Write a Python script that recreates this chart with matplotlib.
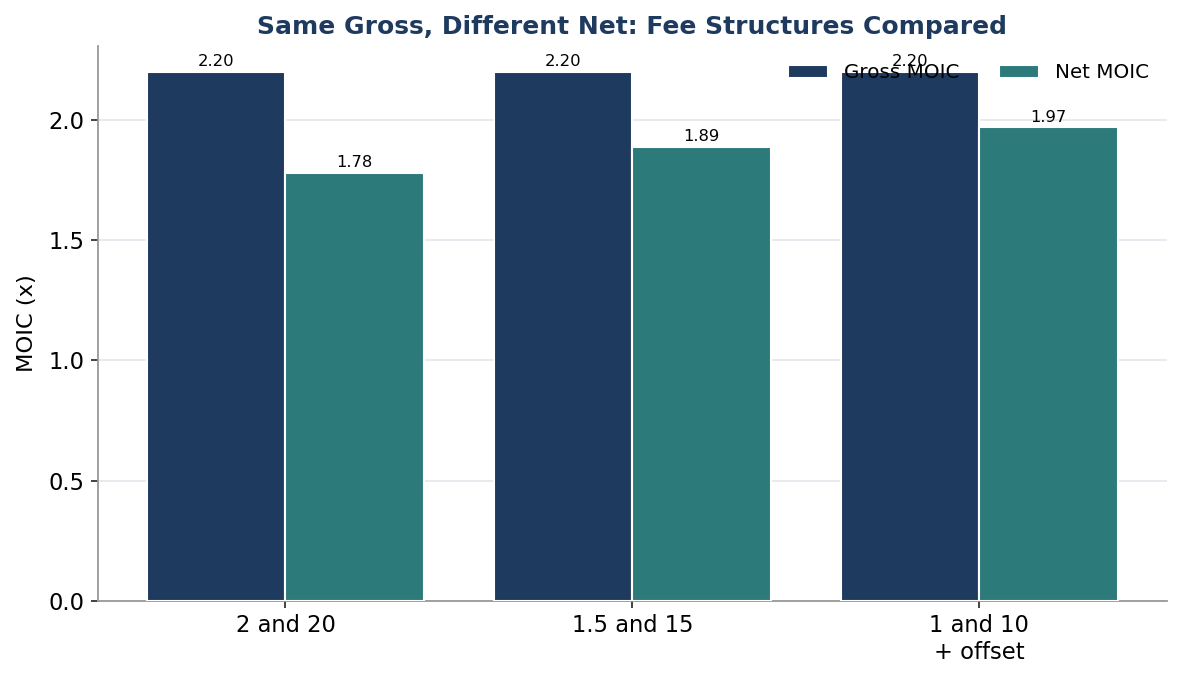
import matplotlib
matplotlib.use("Agg")
import matplotlib.pyplot as plt
import numpy as np

categories = ["2 and 20", "1.5 and 15", "1 and 10\n+ offset"]
gross_moic = [2.20, 2.20, 2.20]
net_moic = [1.78, 1.89, 1.97]

fig, ax = plt.subplots(figsize=(11.82, 6.8), dpi=100)
x = np.arange(len(categories))
w = 0.4
b1 = ax.bar(x - w/2, gross_moic, w, color="#1f3a5f", edgecolor="white", linewidth=1.5, label="Gross MOIC", zorder=3)
b2 = ax.bar(x + w/2, net_moic, w, color="#2d7a7b", edgecolor="white", linewidth=1.5, label="Net MOIC", zorder=3)
for bars in (b1, b2):
    ax.bar_label(bars, fmt="%.2f", padding=2, fontsize=11.8)

ax.set_xticks(x)
ax.set_xticklabels(categories, fontsize=16.3)
ax.tick_params(axis="both", length=4.8, width=1.3, pad=4.8, color="#333333")
ax.tick_params(axis="y", labelsize=16.3)
ax.set_ylabel("MOIC (x)", fontsize=16.2, labelpad=8.5)
ax.set_ylim(0, 2.31)
ax.set_title("Same Gross, Different Net: Fee Structures Compared", fontsize=18, fontweight="bold", color="#1f3a5f", pad=8)
ax.yaxis.grid(True, color="#e5e8ee", linewidth=1.3, zorder=0)
ax.set_axisbelow(True)
for s in ("top", "right"):
    ax.spines[s].set_visible(False)
for s in ("left", "bottom"):
    ax.spines[s].set_color("#999999")
    ax.spines[s].set_linewidth(1.3)
ax.legend(loc="upper right", ncol=2, frameon=False, fontsize=14.3, columnspacing=2.0)
fig.subplots_adjust(left=0.083, right=0.987, top=0.933, bottom=0.1165)
fig.savefig("out.png", dpi=100)
